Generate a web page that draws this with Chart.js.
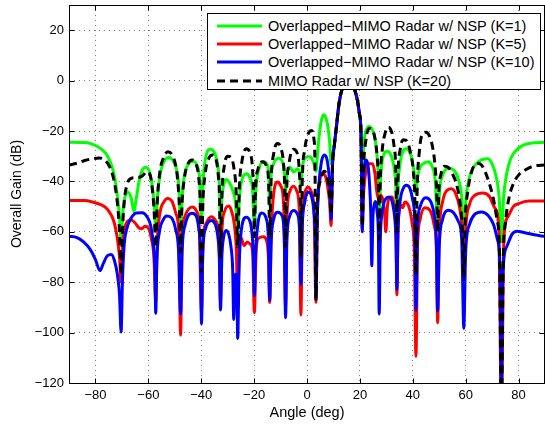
<!DOCTYPE html>
<html><head><meta charset="utf-8">
<script src="https://cdn.jsdelivr.net/npm/chart.js@4.4.0/dist/chart.umd.min.js"></script>
<style>
html,body{margin:0;padding:0;background:#fff;}
#wrap{position:relative;width:545px;height:424px;overflow:hidden;}
#legend{position:absolute;left:207px;top:13px;width:332px;height:75px;border:1px solid #000;background:#fff;font-family:'Liberation Sans',Arial,sans-serif;font-size:14.5px;color:#000;}
.row{position:absolute;left:0;width:330px;height:18px;line-height:18px;white-space:nowrap;}
.row svg{position:absolute;left:9px;top:0;}
.row span{position:absolute;left:60px;top:0;}
</style></head><body>
<div id="wrap"><canvas id="c" width="545" height="424"></canvas><div id="legend"></div></div>
<script>
// ---------- data ----------
const xTicks = [-80,-60,-40,-20,0,20,40,60,80];
const xTickLabels = ['\u221280','\u221260','\u221240','\u221220','0','20','40','60','80'];
const yTicks = [-120,-100,-80,-60,-40,-20,0,20];
const yTickLabels = ['\u2212120','\u2212100','\u221280','\u221260','\u221240','\u221220','0','20'];
const seriesLabels = ['Overlapped\u2212MIMO Radar w/ NSP (K=1)','Overlapped\u2212MIMO Radar w/ NSP (K=5)','Overlapped\u2212MIMO Radar w/ NSP (K=10)','MIMO Radar w/ NSP (K=20)'];

// K=1 (green)
const k1Deg = [-90,-84,-81,-78,-76,-74.5,-73,-71.8,-70.9,-70.3,-69.7,-69,-67.8,-66.5,-65.4,-64.6,-63.5,-62.3,-60.9,-59.5,-58.5,-57.7,-57.2,-56.6,-55.5,-54,-52.2,-50.3,-49,-48.3,-47.8,-47.2,-46.2,-44.8,-43,-41.5,-40.6,-39.9,-39.3,-38.4,-36.5,-34.8,-33.7,-33.1,-32.7,-32.2,-31.4,-30.5,-29.3,-28.1,-27.1,-26.2,-25.6,-24.6,-23,-21.6,-20.6,-19.9,-19.3,-18.3,-16.4,-15,-14.5,-14.1,-13.6,-12.6,-10.8,-9.2,-8.5,-8.1,-7.5,-6.6,-5,-3.6,-2.8,-2.3,-1.7,-0.5,1,2.3,3,3.4,3.9,4.6,5.4,6.3,7.2,8,8.6,9.1,9.7,10.3,11,12.2,13.3,14.5,15.5,16.8,18,19.1,19.8,20.4,20.9,21.5,22.3,23.5,24.7,25.7,26.5,27,27.3,27.7,28.3,29.2,30.3,31.5,32.6,33.5,34,34.5,35.3,36.3,37.6,38.9,40,40.7,41.2,41.7,42.7,44,45.8,47.3,48.5,49.4,50.2,51.5,53.5,55.5,57.2,58.5,59.3,60.2,61.8,64,66.5,68.3,70,71.5,72.7,73.5,74.3,75.5,77,79.5,82,85,90];
const k1Gain = [-24.5,-24.6,-25.3,-27,-29,-32,-37,-45,-54,-64,-53,-47,-44.2,-46.5,-52,-47,-40,-35.5,-34.4,-36.5,-42,-50,-60,-47,-37,-32,-30.5,-32.5,-37,-45,-62,-46,-37,-33,-32,-34,-39,-56,-40,-31,-27.2,-29,-34,-42,-60,-47,-41,-39.2,-40.5,-43.5,-48,-61,-47,-39.5,-37,-38.5,-43,-58,-43,-35.5,-32.2,-33.5,-37,-50,-38,-33,-30.8,-32.5,-37,-44,-37,-34.3,-36.3,-35,-37,-42,-34,-30.5,-30.2,-32,-34.5,-36,-30,-22,-16,-13.6,-15,-19,-25,-33,-32,-26,-19.5,-8.5,-3.3,-0.5,0,-1,-3.5,-8,-13,-20,-38,-25,-20,-18.2,-19.5,-23,-30,-40,-58,-42,-33,-29,-28,-29,-32.5,-40,-52,-40,-32,-28,-27,-28.5,-33,-38,-45,-39,-34.5,-33,-32.2,-34,-40,-58,-43,-37,-34.8,-35.5,-39,-46,-60,-46,-37,-33,-31.2,-31,-33,-38,-47,-64,-47,-37,-31,-27.3,-25.5,-24.8,-24.5];

// K=5 (red)
const k5Deg = [-90,-84,-81,-78,-76,-74.5,-73,-71.8,-70.9,-70.3,-69.7,-69,-68,-66.5,-65,-63.5,-62.5,-61.3,-60,-58.8,-57.9,-57.2,-56.6,-55.5,-54,-52.8,-51,-49.5,-48.5,-47.8,-47.2,-46.2,-44.8,-43.3,-41.8,-40.8,-39.9,-39.3,-38.3,-36.2,-34.6,-33.4,-32.7,-32.2,-31.2,-29.7,-28.6,-27.5,-26.7,-26.2,-25.6,-24.9,-23.8,-22.6,-21.6,-20.6,-19.9,-19.2,-18.3,-16.5,-15.3,-14.6,-14.1,-13.5,-12.8,-11.3,-9.8,-8.8,-8.1,-7.5,-6.5,-5.2,-3.8,-2.9,-2.3,-1.7,-0.7,0.3,1.6,2.6,3.4,4,4.8,5.8,6.8,7.8,8.6,9.1,9.7,10.3,11,12.2,13.3,14.5,15.5,16.8,18,19.1,19.8,20.4,20.9,21.4,22.3,23.5,24.8,25.7,26.4,27,27.8,28.6,29.3,29.8,30.4,31.2,32.2,33.2,33.6,34,34.4,35,35.7,36.2,37,38.5,39.8,40.6,41.2,41.8,42.8,44.5,46.5,48,48.9,49.4,50,51.3,53,54.5,56.3,57.8,58.7,59.3,60,61.5,63.5,66.5,69,71,72.5,73.5,74.5,76,78,80,84,90];
const k5Gain = [-47.6,-47.6,-48.2,-49.2,-50.5,-52.5,-56,-62,-70,-80,-66,-59,-56,-55.3,-56.5,-58.5,-58.8,-57.8,-58.5,-63,-70,-88,-64,-52,-48,-46.8,-48,-53,-60,-101,-62,-54,-51,-50.2,-51.8,-57,-92,-63,-57,-54,-55.5,-61,-88,-60,-52,-49.8,-51.5,-57,-68,-90,-67,-62.5,-65.5,-64,-64.8,-67.5,-92.1,-67,-62.5,-62,-63.5,-70,-88,-60,-47,-40.2,-42,-50,-90,-52,-44,-41.9,-44,-52,-93,-52,-44,-42.2,-44,-50,-88,-50,-40,-37,-37.5,-42,-49,-57.5,-32,-26,-19.5,-8.5,-3.3,-0.5,0,-1,-3.5,-8,-13,-20,-59,-45,-36,-33,-33,-37,-44,-47,-45.5,-47,-52,-60,-50,-46.5,-46.2,-52,-60,-85,-60,-51,-49.5,-50.5,-48.2,-50,-57,-68,-109.4,-66,-55,-50.5,-51.5,-57,-66,-96.1,-62,-48,-43.5,-42.9,-45,-51,-60,-80,-59,-49,-45.5,-44.6,-46,-50.5,-58,-130,-62,-54,-50,-48.8,-47.8,-47.8];

// K=10 (blue)
const k10Deg = [-90,-87,-84.5,-82,-80,-78.3,-77,-75.5,-74,-72.8,-71.7,-70.9,-70.3,-69.8,-69.2,-68.2,-66.5,-64.5,-62.3,-60.5,-59,-58,-57.5,-57.2,-56.8,-55.8,-54.5,-53,-51.2,-49.7,-48.6,-47.8,-47.2,-46,-44.5,-43.5,-42,-40.9,-40.3,-39.9,-39.4,-38.3,-36.2,-34.7,-33.6,-33.1,-32.7,-32.2,-31.5,-30.6,-29.6,-28.8,-28.1,-27.7,-27.3,-26.9,-26.5,-26.2,-25.7,-24.8,-23,-21.5,-20.6,-20.2,-19.9,-19.5,-18.7,-17.1,-15.5,-14.6,-14.1,-13.6,-12.6,-11,-9.5,-8.6,-8.1,-7.6,-6.6,-5.1,-3.6,-2.8,-2.3,-1.8,-0.8,0.4,1.6,2.6,3.1,3.4,3.8,4.6,5.5,6.5,7.5,8.3,8.8,9.1,9.7,10.3,11,12.2,13.3,14.5,15.5,16.8,18,19.1,19.8,20.4,20.9,21.3,21.8,22.4,23.1,23.7,24.1,24.5,24.9,25.5,26,26.5,27,27.3,27.7,28.5,29.7,31,32.3,33.3,33.7,34,34.4,35.2,36.3,37.5,38.8,40,40.7,41.2,41.8,42.8,44.9,46.8,48.2,48.9,49.4,50,51.3,53.3,55.5,57.3,58.5,59.3,60,61.5,63.5,66,68.5,70.5,72,73,73.5,74,75.5,77.5,79.5,82,86,90];
const k10Gain = [-61.8,-62.3,-64,-67,-71,-75.4,-72.5,-69.5,-69,-71.5,-77,-85,-99.8,-80,-66,-59,-54.5,-52.5,-52.4,-54,-58,-66,-75,-92.3,-72,-60,-55.5,-53.7,-54.5,-59,-67,-92.5,-67,-57,-53,-52.6,-53.5,-59,-68,-96.5,-68,-58.5,-55.5,-57,-63,-71,-91,-70,-62,-59.5,-61,-65.5,-75,-94.8,-80,-76.8,-82,-102.3,-75,-59,-54.2,-56,-63,-72,-85.4,-70,-58,-52.5,-54.5,-63,-87,-65,-55,-52.2,-53.5,-62,-94.1,-63,-54,-51.5,-53,-60,-80.8,-58,-48,-44.2,-45.5,-52,-62,-86.4,-58,-40,-32,-29.5,-31,-37,-45,-55,-32,-26,-19.5,-8.5,-3.3,-0.5,0,-1,-3.5,-8,-13,-20,-60,-40,-33.5,-31.5,-34,-42,-52,-73.5,-55,-49,-48,-52,-62,-92.6,-64,-52,-47,-46.2,-48.5,-56,-64,-82.8,-60,-48,-43,-41.5,-42.5,-47.5,-55,-91.1,-58,-50,-46.5,-48,-54,-63,-91.4,-66,-55,-51.4,-52.5,-56,-63,-98.3,-68,-57,-53,-52.1,-53.5,-57,-63,-75,-130,-78,-66,-61,-59.8,-60.3,-61.2,-61.9];

// K=20 (black dashed)
const k20Deg = [-90,-87,-84,-81,-78.5,-76.5,-75,-73.6,-72.4,-71.4,-70.8,-70.3,-69.8,-69.1,-68,-66.5,-64.5,-62.5,-60.5,-59.3,-58.4,-57.8,-57.2,-56.6,-55.6,-54.2,-52.6,-51,-49.6,-48.7,-48.2,-47.8,-47.3,-46.4,-45,-43.5,-42,-41,-40.4,-39.9,-39.4,-38.5,-37.2,-35.8,-34.5,-33.6,-33.1,-32.7,-32.2,-31.3,-30,-28.7,-27.6,-26.8,-26.2,-25.6,-24.6,-23,-21.6,-20.6,-20.2,-19.9,-19.5,-18.5,-16.8,-15.3,-14.5,-14.1,-13.6,-12.6,-11.2,-9.8,-8.8,-8.4,-8.1,-7.7,-6.8,-5.2,-3.8,-2.9,-2.5,-2.3,-1.8,-0.8,0.5,1.8,2.6,3,3.4,3.9,5,6.5,7.8,8.6,9.1,9.7,10.3,11,12.2,13.3,14.5,15.5,16.8,18,19.1,19.8,20.4,20.9,21.4,22.3,23.5,24.7,25.7,26.5,27,27.3,27.7,28.5,29.5,30.7,31.7,32.8,33.6,34,34.4,35.3,36.5,37.8,39,40.2,40.8,41.2,41.6,42.5,43.8,45,46.3,47.6,48.6,49.1,49.4,49.8,50.7,52,53.5,55,56.5,57.8,58.7,59.3,59.8,60.8,62.3,64.3,66,67.5,69,70.5,71.8,72.8,73.5,74.2,75.2,76.5,78,80,82.5,85.5,90];
const k20Gain = [-33.5,-32.8,-31.7,-31,-30.7,-31.5,-33.5,-37,-43,-52,-62,-77,-60,-48,-41,-38.8,-38.5,-38,-36.2,-37.5,-44,-52,-66,-48,-36,-30.5,-28.2,-29.5,-34,-42,-52,-68,-50,-39,-33,-31.5,-33,-38,-48,-76,-50,-37,-31,-29.5,-31,-37,-46,-70,-46,-34,-30,-30.5,-35,-44,-66,-43,-32,-27,-28.5,-35,-45,-62,-44,-35,-32.2,-34,-41,-62,-40,-29,-25,-27,-34,-44,-66,-44,-33,-27.2,-28.5,-36,-48,-70,-40,-27,-21,-19.8,-23,-32,-86.8,-50,-40,-36,-39,-46,-53,-32,-26,-19.5,-8.5,-3.3,-0.5,0,-1,-3.5,-8,-13,-20,-58,-35,-23.5,-19,-19.5,-23,-30,-40,-63,-40,-27,-21,-18.5,-19.5,-25,-36,-60,-38,-27,-23.5,-24,-28,-36,-48,-77,-46,-28,-21,-20.5,-22,-27,-36,-46,-60,-45,-37,-34,-34.5,-37,-41,-48,-58,-78,-56,-44,-36,-32.8,-33.5,-36.5,-41,-47,-55,-68,-130,-72,-55,-46,-41,-37.5,-35.5,-34,-33.5];

// ---------- chart ----------
const FONT = "'Liberation Sans', Arial, Helvetica, sans-serif";
function zip(d, g) { return d.map((v, i) => ({ x: v, y: g[i] })); }
function ds(label, d, g, color, dash) {
  return { label, data: zip(d, g), borderColor: color, backgroundColor: color, borderWidth: 3,
    borderDash: dash || [], pointRadius: 0, fill: false, cubicInterpolationMode: 'monotone',
    clip: 0, borderCapStyle: 'butt', borderJoinStyle: 'round' };
}
// index 0 is drawn on top: black, blue, red, green
const datasets = [
  ds(seriesLabels[3], k20Deg, k20Gain, '#000000', [8, 5]),
  ds(seriesLabels[2], k10Deg, k10Gain, '#0000ff'),
  ds(seriesLabels[1], k5Deg, k5Gain, '#ff0000'),
  ds(seriesLabels[0], k1Deg, k1Gain, '#00ff00')
];

const boxPlugin = {
  id: 'axesBox',
  afterDatasetsDraw(chart) {
    const { ctx, chartArea: a, scales: { x, y } } = chart;
    ctx.save();
    ctx.setLineDash([]);
    ctx.strokeStyle = '#000';
    ctx.lineWidth = 1;
    const L = Math.round(a.left) + 0.5, R = Math.round(a.right) - 0.5, T = Math.round(a.top) + 0.5, B = Math.round(a.bottom) + 0.5;
    ctx.strokeRect(L, T, R - L, B - T);
    ctx.beginPath();
    xTicks.forEach(v => { const p = Math.round(x.getPixelForValue(v)) + 0.5; ctx.moveTo(p, B); ctx.lineTo(p, B - 5); ctx.moveTo(p, T); ctx.lineTo(p, T + 5); });
    yTicks.forEach(v => { const p = Math.round(y.getPixelForValue(v)) + 0.5; ctx.moveTo(L, p); ctx.lineTo(L + 5, p); ctx.moveTo(R, p); ctx.lineTo(R - 5, p); });
    ctx.stroke();
    ctx.restore();
  }
};

new Chart(document.getElementById('c'), {
  type: 'line',
  data: { datasets },
  plugins: [boxPlugin],
  options: {
    responsive: false, animation: false, events: [],
    layout: { padding: { top: 5, right: 0, left: 0, bottom: 0 } },
    plugins: { legend: { display: false }, tooltip: { enabled: false } },
    scales: {
      x: {
        type: 'linear', min: -90, max: 90,
        afterBuildTicks: s => { s.ticks = xTicks.map(v => ({ value: v })); },
        afterFit: s => { s.height = 41; s.paddingLeft = 0; s.paddingRight = 0; },
        ticks: { padding: 5, color: '#000', font: { family: FONT, size: 13 }, maxRotation: 0, autoSkip: false,
          callback: (v, i) => xTickLabels[i] },
        grid: { color: '#808080', lineWidth: 1, drawTicks: false },
        border: { display: false, dash: [1, 4] },
        title: { display: true, text: 'Angle (deg)', color: '#000', font: { family: FONT, size: 14.5 }, padding: { top: 0, bottom: 2 } }
      },
      y: {
        type: 'linear', min: -120, max: 30,
        afterBuildTicks: s => { s.ticks = yTicks.map(v => ({ value: v })); },
        afterFit: s => { s.width = 69; s.paddingTop = 0; s.paddingBottom = 0; },
        ticks: { padding: 5, color: '#000', font: { family: FONT, size: 13 }, autoSkip: false,
          callback: (v, i) => yTickLabels[i] },
        grid: { color: '#808080', lineWidth: 1, drawTicks: false },
        border: { display: false, dash: [1, 4] },
        title: { display: true, text: 'Overall Gain (dB)', color: '#000', font: { family: FONT, size: 14 }, padding: { top: 9, bottom: 0 } }
      }
    }
  }
});

// ---------- legend (HTML, inside the axes, top-right) ----------
const legendColors = ['#00ff00', '#ff0000', '#0000ff', '#000000'];
const leg = document.getElementById('legend');
seriesLabels.forEach((t, i) => {
  const row = document.createElement('div');
  row.className = 'row';
  row.style.top = (3 + 18.2 * i) + 'px';
  const dash = i === 3 ? ' stroke-dasharray="8 5"' : '';
  row.innerHTML = '<svg width="46" height="18"><line x1="0" y1="9" x2="45" y2="9" stroke="' + legendColors[i] + '" stroke-width="3"' + dash + '/></svg><span></span>';
  row.querySelector('span').textContent = t;
  leg.appendChild(row);
});
</script>
</body></html>
